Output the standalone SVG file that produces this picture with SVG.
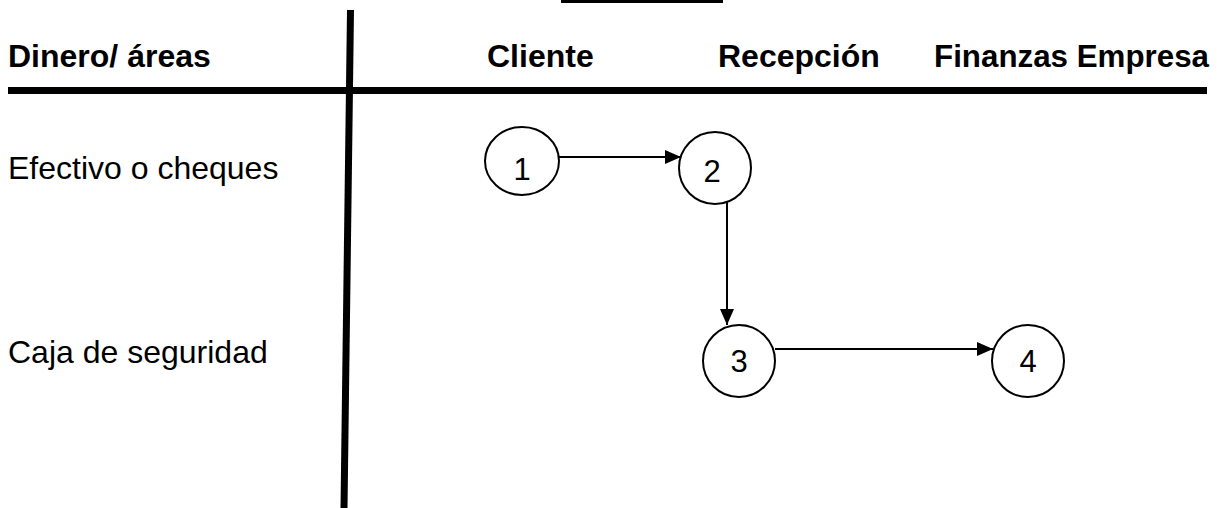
<svg xmlns="http://www.w3.org/2000/svg" width="1225" height="508" viewBox="0 0 1225 508">
  <style>
    .head { font-family: "Liberation Sans", Arial, sans-serif; font-size: 32px; font-weight: bold; fill: #000; }
    .row { font-family: "Liberation Sans", Arial, sans-serif; font-size: 32px; fill: #000; }
    .num { font-family: "Liberation Sans", Arial, sans-serif; font-size: 31px; fill: #000; text-anchor: middle; }
    .rule { stroke: #000; stroke-width: 7; fill: none; }
    .node circle, .node ellipse { fill: #fff; stroke: #000; stroke-width: 2; }
    .edge { stroke: #000; stroke-width: 2; fill: none; marker-end: url(#arrow); }
  </style>
  <defs>
    <marker id="arrow" markerUnits="userSpaceOnUse" markerWidth="16" markerHeight="14" refX="16" refY="7" orient="auto">
      <path d="M0,0 L16,7 L0,14 Z" fill="#000"/>
    </marker>
  </defs>
  <rect width="1225" height="508" fill="#fff"/>

  <!-- table frame -->
  <g id="frame">
    <rect x="561" y="0" width="162" height="3" fill="#000"/>
    <line class="rule" x1="8" y1="90.5" x2="1207" y2="90.5"/>
    <line class="rule" x1="350.5" y1="10" x2="344" y2="508"/>
  </g>

  <!-- column headers -->
  <g id="headers">
    <text class="head" x="8" y="67">Dinero/ áreas</text>
    <text class="head" x="487" y="67">Cliente</text>
    <text class="head" x="718" y="67">Recepción</text>
    <text class="head" x="934" y="67" textLength="275" lengthAdjust="spacingAndGlyphs">Finanzas Empresa</text>
  </g>

  <!-- row labels -->
  <g id="rows">
    <text class="row" x="8" y="179">Efectivo o cheques</text>
    <text class="row" x="8" y="363">Caja de seguridad</text>
  </g>

  <!-- connectors -->
  <g id="connectors">
    <line class="edge" x1="559" y1="157" x2="681" y2="157"/>
    <line class="edge" x1="727" y1="202" x2="727" y2="325"/>
    <line class="edge" x1="775" y1="349" x2="993" y2="349"/>
  </g>

  <!-- nodes -->
  <g id="node-1" class="node">
    <ellipse cx="522" cy="161" rx="37" ry="34"/>
    <text class="num" x="522" y="180">1</text>
  </g>
  <g id="node-2" class="node">
    <circle cx="715" cy="168" r="36"/>
    <text class="num" x="712" y="182">2</text>
  </g>
  <g id="node-3" class="node">
    <circle cx="739" cy="361" r="36"/>
    <text class="num" x="739" y="372">3</text>
  </g>
  <g id="node-4" class="node">
    <circle cx="1028" cy="361" r="36"/>
    <text class="num" x="1028" y="372">4</text>
  </g>
</svg>
